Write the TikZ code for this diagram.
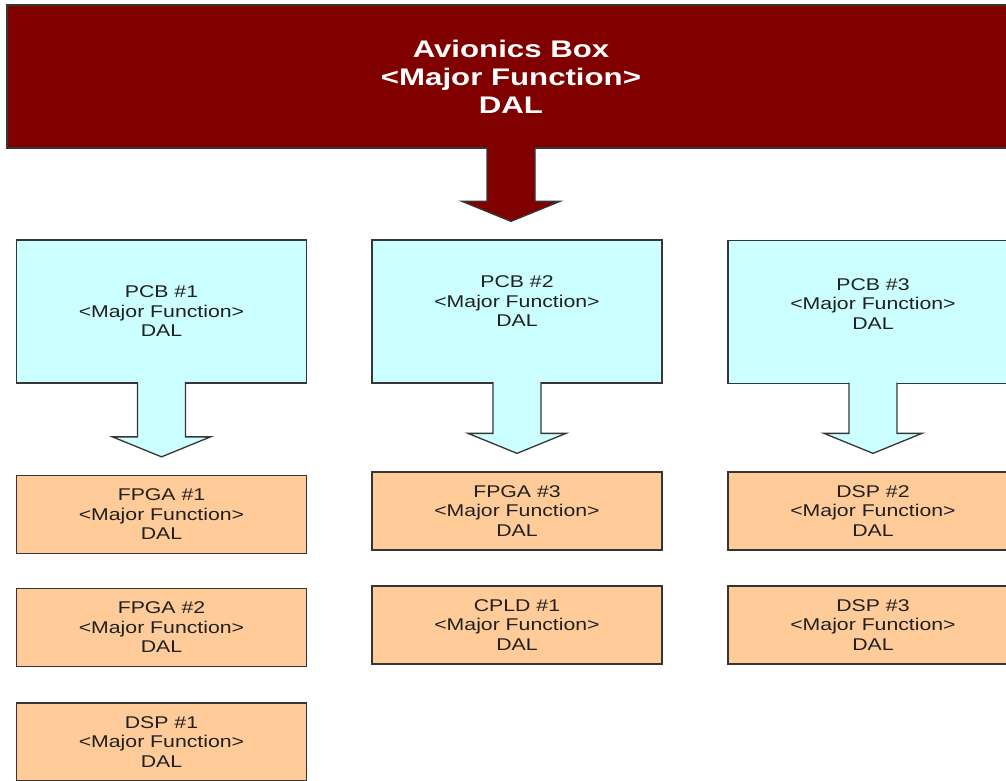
\documentclass[tikz,border=0pt]{standalone}
\usepackage{fontspec}
\newfontfamily\boxfont[FakeStretch=1.25]{Liberation Sans}
\newfontfamily\headfont[FakeStretch=1.3]{Liberation Sans}
\usetikzlibrary{calc}
\definecolor{boxred}{HTML}{800000}
\definecolor{pcbblue}{HTML}{CCFFFF}
\definecolor{chipbeige}{HTML}{FFCC99}
\definecolor{edgegray}{HTML}{363636}
\definecolor{textgray}{HTML}{202020}

\begin{document}
\begin{tikzpicture}[x=1pt,y=-1pt,
  unit/.style={draw=edgegray, line width=1.3pt, align=center, text=textgray,
    font=\boxfont\fontsize{17}{19.5}\selectfont, inner sep=0pt},
  pcb/.style={unit, fill=pcbblue, minimum width=290pt, minimum height=143pt},
  chip/.style={unit, fill=chipbeige, minimum width=290pt, minimum height=78pt},
  blockarrow/.style={draw=edgegray, line width=1.3pt, line join=miter}]
 \useasboundingbox (0,0) rectangle (1006,780);
 % avionics box
 \node[draw=edgegray, fill=boxred, line width=1.5pt, minimum width=1008pt,
   minimum height=143pt, text=white, align=center,
   font=\headfont\bfseries\fontsize{24}{28}\selectfont] (avbox) at (511,76.5)
   {Avionics Box\\<Major Function>\\DAL};
 % boards
 \node[pcb] (pcb1) at (161.5,311.5) {PCB \#1\\<Major Function>\\DAL};
 \node[pcb, text depth=20pt] (pcb2) at (517,311.5) {PCB \#2\\<Major Function>\\DAL};
 \node[pcb, text depth=16pt] (pcb3) at (873,312) {PCB \#3\\<Major Function>\\DAL};
 % devices
 \node[chip] (fpga1) at (161.5,514.5) {FPGA \#1\\<Major Function>\\DAL};
 \node[chip] (fpga2) at (161.5,627.5) {FPGA \#2\\<Major Function>\\DAL};
 \node[chip] (dsp1) at (161.5,742) {DSP \#1\\<Major Function>\\DAL};
 \node[chip] (fpga3) at (517,511) {FPGA \#3\\<Major Function>\\DAL};
 \node[chip] (cpld1) at (517,625) {CPLD \#1\\<Major Function>\\DAL};
 \node[chip] (dsp2) at (873,511) {DSP \#2\\<Major Function>\\DAL};
 \node[chip] (dsp3) at (873,625) {DSP \#3\\<Major Function>\\DAL};
 % block arrows
 \foreach \src/\dst/\clr in {avbox/pcb2/boxred, pcb1/fpga1/pcbblue,
     pcb2/fpga3/pcbblue, pcb3/dsp2/pcbblue}{
  \coordinate (tip) at ($(\dst.north -| \src.south)+(0,-18)$);
  \draw[blockarrow, fill=\clr] ($(\src.south)+(-24,-1.6)$)
     -- ($(tip)+(-24,-20)$) -- ($(tip)+(-49,-20)$) -- (tip)
     -- ($(tip)+(49,-20)$) -- ($(tip)+(24,-20)$)
     -- ($(\src.south)+(24,-1.6)$);
 }
\end{tikzpicture}
\end{document}
